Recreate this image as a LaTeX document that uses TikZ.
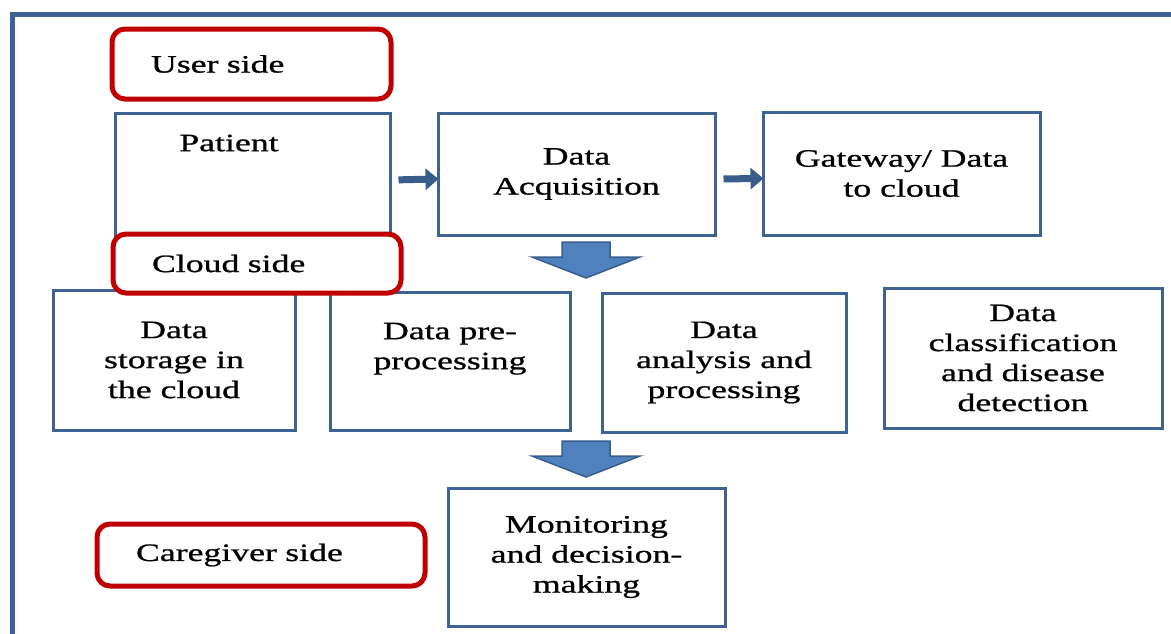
\documentclass[tikz,border=0pt]{standalone}
\usepackage{fontspec}
\setmainfont{Liberation Serif}[FakeStretch=1.43,FakeBold=0.9]
\usepackage{xcolor}
\usepackage{tikz}
\usetikzlibrary{arrows.meta}

\definecolor{boxblue}{RGB}{62,98,148}
\definecolor{arrowfill}{RGB}{79,129,189}
\definecolor{arrowline}{RGB}{56,93,138}
\definecolor{sidered}{RGB}{192,0,0}

\tikzset{
  bluebox/.style={draw=boxblue, line width=3pt, rectangle, align=center, inner sep=0pt},
  sidebox/.style={draw=sidered, fill=white, line width=5pt, rounded corners=13pt,
    inner xsep=39pt, inner ysep=0pt, align=left},
  flowarrow/.style={draw=arrowline, line width=7pt,
    -{Triangle[length=13pt,width=21pt]}, shorten <=7pt, shorten >=-2pt},
  blockarrow/.style={draw=arrowline, fill=arrowfill, line width=1.5pt, line join=miter},
  blockdown/.pic={\draw[blockarrow] (-24,0) -- (24,0) -- (24,15) -- (54,15) -- (0,36)
    -- (-54,15) -- (-24,15) -- cycle;}
}

\begin{document}
\begin{tikzpicture}[x=1pt,y=-1pt,font=\fontsize{25}{30}\selectfont]
\useasboundingbox (0,0) rectangle (1171,633);

% The frame
\draw[draw=boxblue, line width=5pt] (12.5,640) -- (12.5,14.5) -- (1175,14.5);

% The user side
\node[bluebox, minimum width=275pt, minimum height=124pt] (patient) at (252.5,175) {};
\node (patienttxt) at (229,143) {Patient};
\node[bluebox, minimum width=277pt, minimum height=122pt] (acq) at (576.5,174) {Data\\Acquisition};
\node[bluebox, minimum width=277pt, minimum height=123pt] (gateway) at (901.5,173.5) {Gateway/ Data\\to cloud};

% The cloud side
\node[bluebox, minimum width=242pt, minimum height=140pt] (storage) at (174,360) {Data\\storage in\\the cloud};
\node[bluebox, minimum width=240pt, minimum height=138pt] (preproc) at (450,361) {Data pre-\\processing\\~};
\node[bluebox, minimum width=244pt, minimum height=139pt] (analysis) at (724,362.5) {Data\\analysis and\\processing};
\node[bluebox, minimum width=278pt, minimum height=140pt] (classif) at (1023,358) {Data\\classification\\and disease\\detection};

% The caregiver side
\node[bluebox, minimum width=277pt, minimum height=138pt] (monitor) at (586.5,557) {Monitoring\\and decision-\\making};

% The arrows
\draw[flowarrow] ([yshift=-5pt]patient.east) -- ([yshift=-5pt]acq.west);
\draw[flowarrow] ([yshift=-5pt]acq.east) -- ([yshift=-5pt]gateway.west);
\pic (down1) at (586,242) {blockdown};
\pic (down2) at (586,441) {blockdown};

% The labels
\node[sidebox, text width=201pt, minimum height=70pt] (userside) at (251.5,64) {User side};
\node[sidebox, text width=210pt, minimum height=59pt] (cloudside) at (257,263.5) {Cloud side};
\node[sidebox, text width=250pt, minimum height=62pt] (careside) at (261,555) {Caregiver side};
\end{tikzpicture}
\end{document}
